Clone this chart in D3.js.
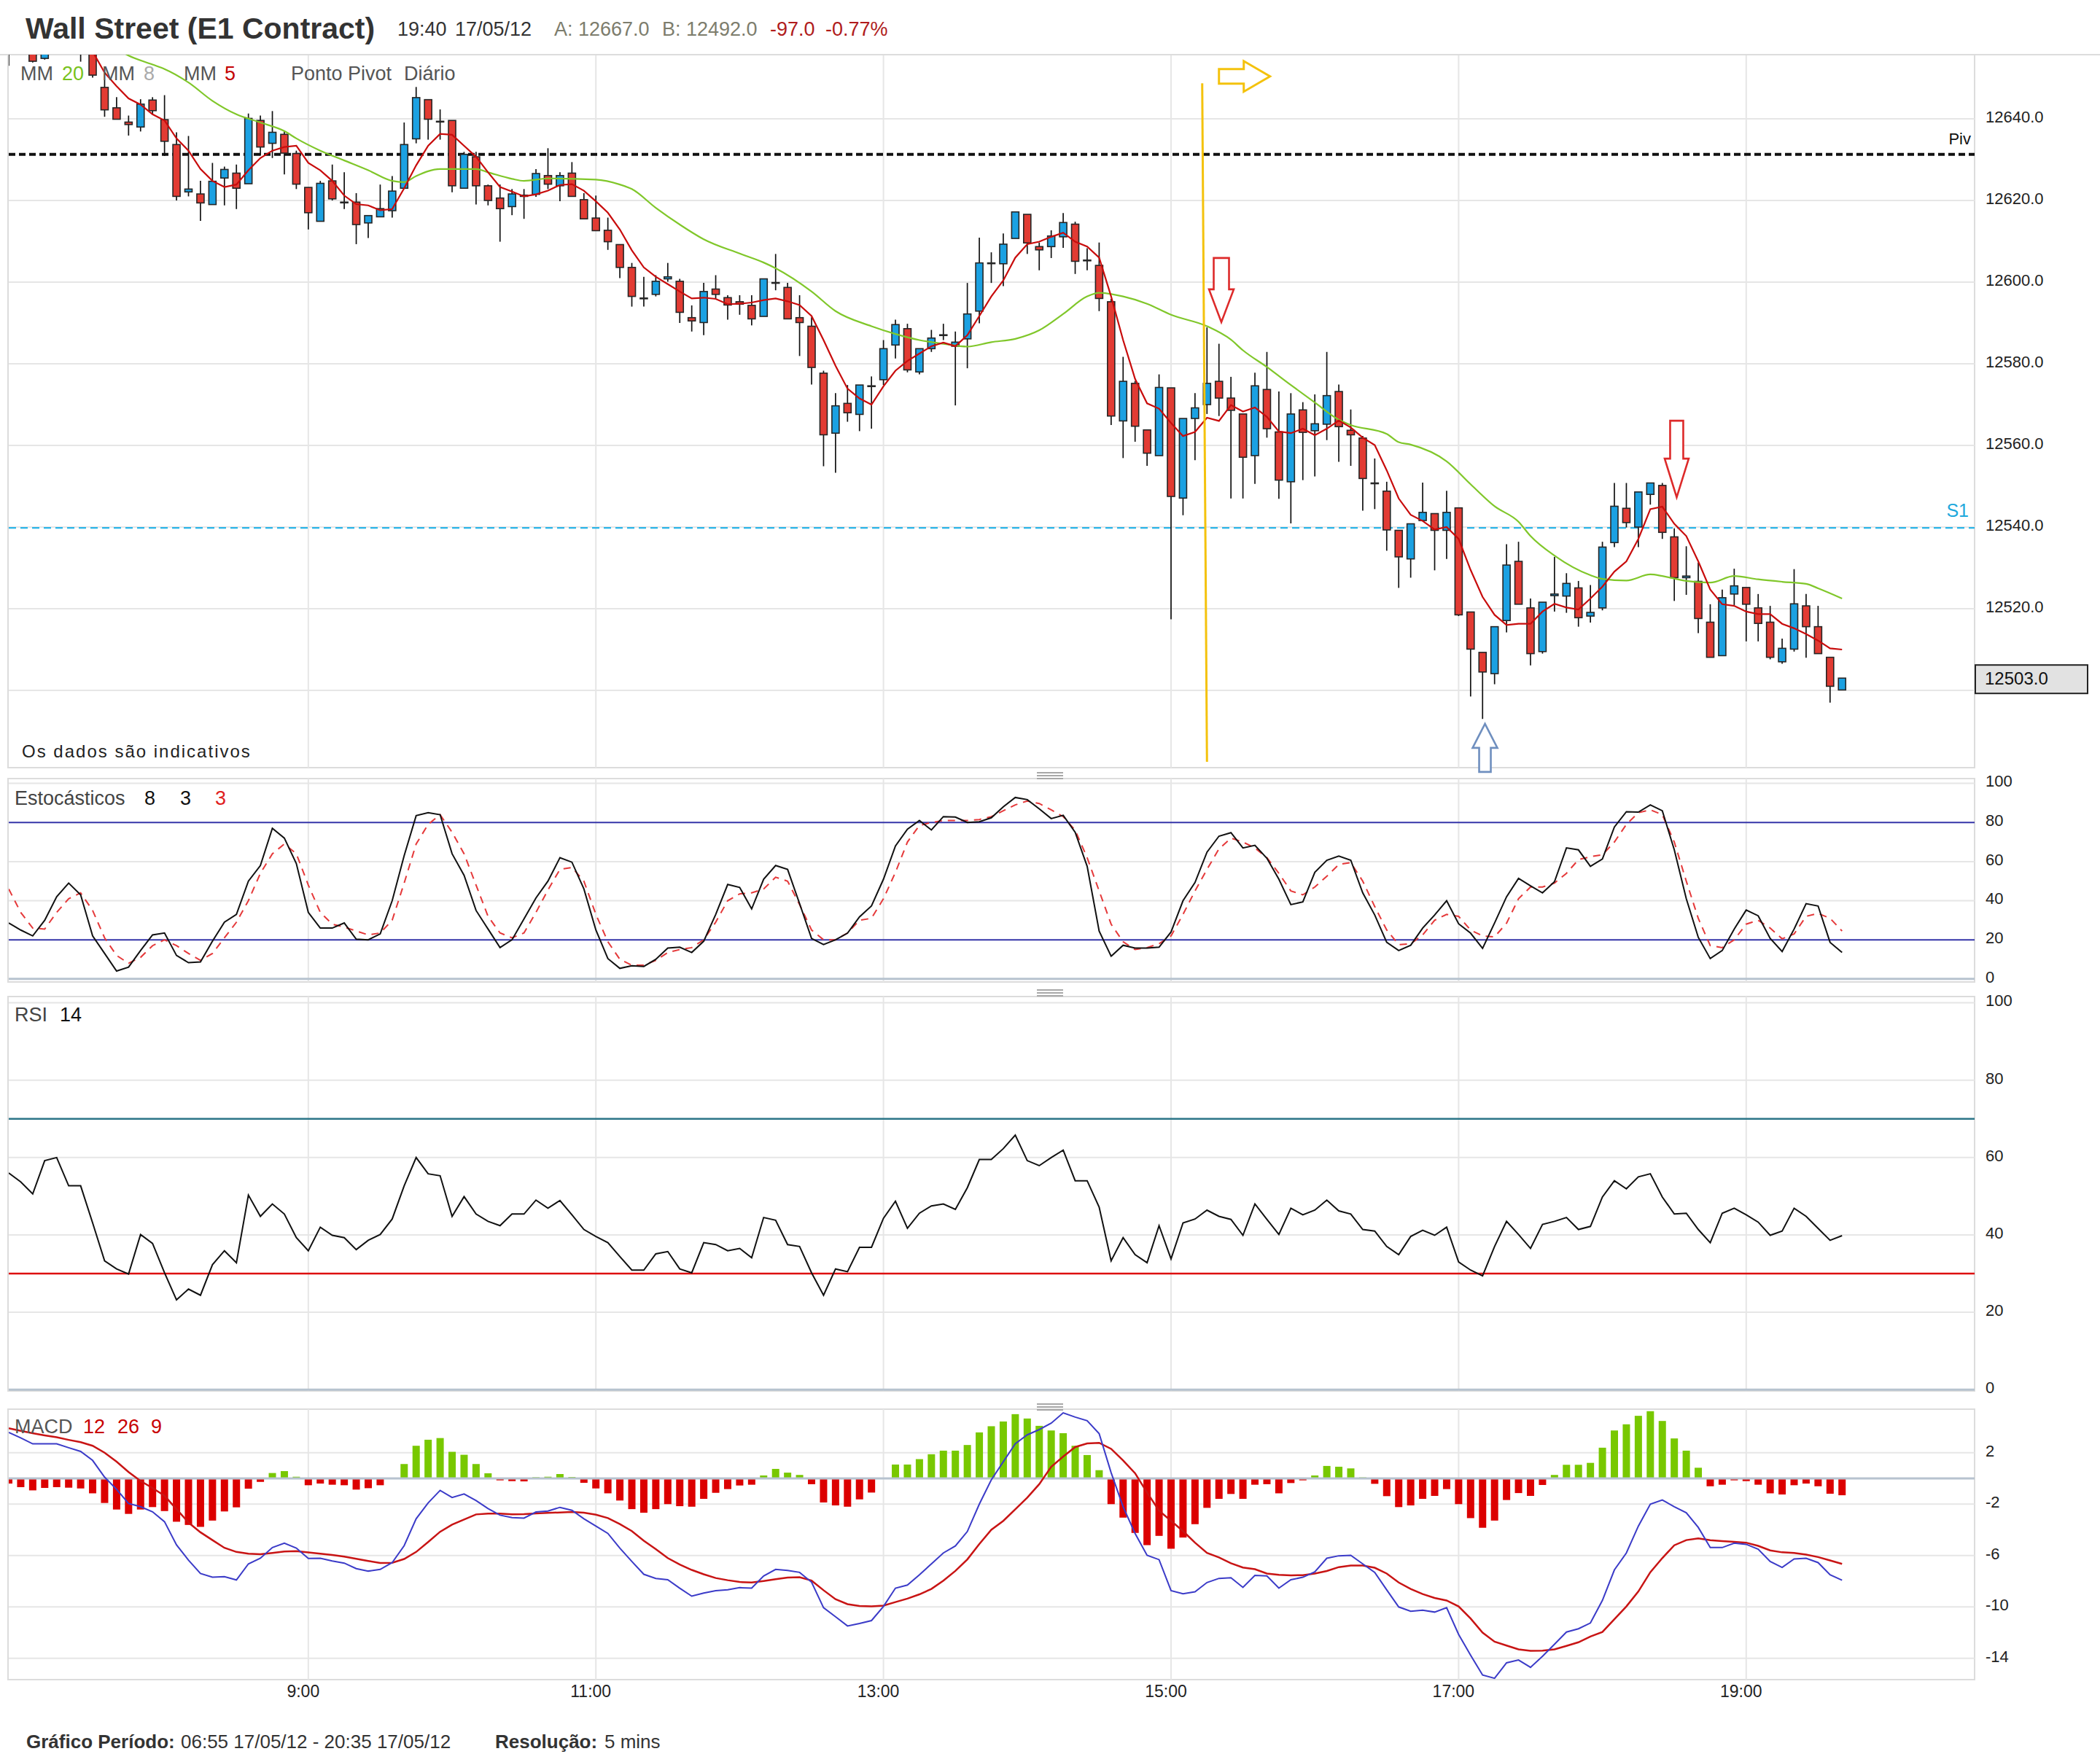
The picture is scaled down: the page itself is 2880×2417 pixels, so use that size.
<!DOCTYPE html>
<html>
<head>
<meta charset="utf-8">
<script src="https://cdn.jsdelivr.net/npm/d3@7"></script>
<style>
  body { margin: 0; background: #fff; }
  svg { display: block; }
  text { font-family: "Liberation Sans", Arial, sans-serif; }
</style>
</head>
<body>
<svg id="chart"></svg>
<script>
// ---- Candles, 5 minute bars from 06:55 to 19:40 ----
const startTime = "06:55", endTime = "20:35", stepMinutes = 5;

const openP = [
  12662, 12659, 12662, 12654.8, 12658, 12662, 12657, 12660, 12647.7, 12642.7,
  12639.2, 12638, 12644.6, 12639.8, 12633.7, 12622.1, 12621.6, 12619.0, 12625.5, 12626.7,
  12624.1, 12639.6, 12634.0, 12636.2, 12631.5, 12623.2, 12614.9, 12624.8, 12619.6, 12619.6,
  12614.5, 12616.0, 12617.5, 12623.0, 12635.1, 12644.7, 12639.4, 12639.6, 12623.0, 12630.7,
  12623.6, 12620.6, 12618.5, 12621.0, 12621.5, 12626.1, 12623.6, 12626.7, 12620.2, 12615.7,
  12612.7, 12609.2, 12603.6, 12596.1, 12597.0, 12600.8, 12600.2, 12591.3, 12590.1, 12598.3,
  12596.2, 12595.2, 12594.3, 12591.6, 12599.9, 12598.7, 12591.3, 12589.2, 12577.7, 12563.0,
  12570.3, 12567.6, 12574.6, 12576.1, 12584.6, 12588.6, 12578.0, 12583.7, 12587.1, 12584.3,
  12586.1, 12592.9, 12604.7, 12604.5, 12610.7, 12616.6, 12608.7, 12608.7, 12611.1, 12614.2,
  12605.4, 12604.1, 12595.2, 12566.0, 12575.2, 12563.8, 12557.5, 12574.1, 12547.1, 12566.6,
  12570.0, 12575.7, 12571.6, 12567.7, 12557.5, 12573.7, 12563.3, 12551.1, 12568.7, 12563.6,
  12565.2, 12573.2, 12563.7, 12561.8, 12550.8, 12548.8, 12539.2, 12532.2, 12541.6, 12543.3,
  12539.2, 12544.7, 12519.2, 12509.3, 12504.1, 12517.1, 12531.6, 12520.2, 12509.5, 12523.2,
  12523.1, 12525.1, 12518.2, 12520.2, 12536.2, 12544.6, 12540.0, 12548.0, 12550.2, 12537.6,
  12527.6, 12526.7, 12516.7, 12508.5, 12523.6, 12525.2, 12520.2, 12516.7, 12507.0, 12510.1,
  12520.7, 12515.6, 12508.1, 12500.1
];
const highP = [
  12666, 12667, 12664, 12660, 12664, 12665, 12662, 12661, 12649.5, 12645.3,
  12640.8, 12644.8, 12645.3, 12645.8, 12636.7, 12635.8, 12624.8, 12629.2, 12628.3, 12628.8,
  12641.3, 12640.8, 12641.9, 12637.0, 12632.2, 12623.2, 12624.8, 12628.8, 12626.9, 12621.8,
  12616.3, 12623.9, 12626.0, 12639.1, 12647.8, 12644.7, 12642.3, 12639.6, 12631.9, 12631.9,
  12623.9, 12623.9, 12622.8, 12622.8, 12627.7, 12632.8, 12626.9, 12629.4, 12621.8, 12621.2,
  12615.8, 12609.2, 12604.7, 12601.3, 12601.7, 12604.7, 12600.8, 12594.3, 12599.8, 12601.7,
  12596.8, 12596.8, 12596.8, 12600.8, 12606.9, 12599.8, 12596.8, 12591.4, 12578.3, 12572.8,
  12574.8, 12574.8, 12576.9, 12585.8, 12590.8, 12589.8, 12583.7, 12588.3, 12589.8, 12587.9,
  12599.8, 12610.9, 12607.3, 12611.9, 12617.2, 12616.6, 12609.7, 12612.7, 12616.9, 12614.8,
  12608.3, 12609.7, 12595.9, 12581.7, 12575.8, 12563.8, 12577.4, 12574.1, 12566.6, 12572.8,
  12588.9, 12584.9, 12576.8, 12567.7, 12577.8, 12582.9, 12573.2, 12572.8, 12570.6, 12572.5,
  12582.9, 12574.9, 12568.8, 12562.3, 12556.8, 12551.1, 12539.2, 12540.8, 12550.9, 12543.3,
  12548.9, 12544.7, 12519.2, 12509.3, 12515.6, 12535.8, 12536.4, 12522.5, 12521.6, 12532.7,
  12528.7, 12526.8, 12525.8, 12536.4, 12550.8, 12550.8, 12548.6, 12550.8, 12550.8, 12539.7,
  12535.3, 12531.3, 12521.1, 12524.7, 12529.8, 12525.2, 12523.6, 12520.7, 12512.7, 12529.7,
  12523.6, 12520.7, 12508.1, 12503.0
];
const lowP = [
  12653, 12657, 12653.8, 12654.5, 12656, 12656, 12654, 12650.1, 12640.5, 12639.9,
  12635.9, 12636.9, 12641.1, 12630.9, 12620.0, 12621.0, 12615.0, 12619.0, 12618.8, 12617.9,
  12624.1, 12631.0, 12630.4, 12626.4, 12622.8, 12612.9, 12614.9, 12620.0, 12617.9, 12609.3,
  12610.8, 12616.0, 12615.8, 12623.0, 12634.0, 12634.9, 12634.9, 12622.0, 12623.0, 12619.0,
  12618.8, 12609.9, 12616.4, 12615.5, 12620.9, 12622.8, 12619.8, 12621.0, 12615.5, 12612.6,
  12607.9, 12601.0, 12594.0, 12594.0, 12596.5, 12600.1, 12590.0, 12587.9, 12587.0, 12596.0,
  12590.8, 12592.0, 12589.4, 12591.6, 12598.0, 12591.0, 12581.9, 12574.9, 12554.9, 12553.3,
  12565.8, 12563.5, 12564.1, 12574.8, 12581.3, 12577.9, 12577.4, 12582.9, 12585.8, 12569.8,
  12578.9, 12589.9, 12599.8, 12599.0, 12610.7, 12606.9, 12602.9, 12605.9, 12608.4, 12602.0,
  12602.9, 12592.9, 12565.0, 12556.9, 12560.9, 12555.0, 12557.5, 12517.4, 12542.9, 12556.4,
  12567.7, 12567.2, 12547.0, 12547.0, 12550.6, 12561.9, 12546.9, 12540.9, 12551.5, 12552.4,
  12561.3, 12556.0, 12555.0, 12544.0, 12544.4, 12534.2, 12525.1, 12527.6, 12541.6, 12529.4,
  12532.2, 12518.2, 12498.5, 12493.0, 12501.5, 12514.2, 12521.1, 12506.1, 12509.0, 12519.3,
  12519.0, 12515.6, 12516.6, 12519.6, 12535.1, 12539.9, 12535.1, 12545.5, 12537.1, 12521.9,
  12523.4, 12514.0, 12508.1, 12508.5, 12520.9, 12512.0, 12512.0, 12507.6, 12506.5, 12509.5,
  12508.0, 12509.0, 12497.0, 12500.1
];
const closeP = [
  12659, 12664, 12654.1, 12658, 12662, 12657, 12660, 12650.7, 12642.2, 12639.9,
  12638.6, 12643.6, 12642.0, 12634.5, 12621.0, 12622.8, 12619.4, 12624.7, 12627.6, 12623.0,
  12640.1, 12633.1, 12636.7, 12631.6, 12624.0, 12617.0, 12624.2, 12620.4, 12619.6, 12614.1,
  12616.3, 12618.0, 12622.3, 12633.7, 12645.2, 12639.9, 12639.4, 12623.6, 12631.3, 12623.6,
  12620.0, 12618.0, 12621.6, 12621.3, 12626.6, 12624.0, 12626.1, 12621.0, 12615.5, 12612.6,
  12609.9, 12603.6, 12596.5, 12596.1, 12600.2, 12601.3, 12592.6, 12590.5, 12597.7, 12597.0,
  12594.4, 12594.6, 12591.0, 12600.8, 12599.9, 12591.0, 12590.1, 12579.1, 12562.6, 12569.7,
  12568.0, 12574.8, 12574.6, 12583.7, 12589.6, 12578.5, 12583.7, 12586.3, 12587.1, 12585.3,
  12592.2, 12604.7, 12604.7, 12609.3, 12617.2, 12609.6, 12607.9, 12611.3, 12614.6, 12605.1,
  12605.4, 12596.0, 12567.2, 12575.7, 12564.7, 12558.1, 12574.2, 12547.5, 12566.6, 12569.2,
  12575.2, 12571.6, 12568.6, 12557.1, 12574.6, 12564.1, 12551.5, 12567.7, 12563.2, 12565.3,
  12572.2, 12564.6, 12562.6, 12551.9, 12550.8, 12539.3, 12532.7, 12540.8, 12543.6, 12539.2,
  12543.6, 12518.5, 12510.1, 12504.5, 12515.6, 12530.7, 12521.1, 12509.0, 12521.6, 12523.6,
  12526.2, 12517.8, 12519.1, 12535.1, 12545.1, 12541.1, 12548.6, 12550.8, 12538.7, 12527.6,
  12528.0, 12517.6, 12508.1, 12522.7, 12525.6, 12521.1, 12516.4, 12508.1, 12510.3, 12521.2,
  12515.6, 12509.0, 12501.0, 12503.0
];

// ---- Moving averages ----
const ma5 = [
  12661, 12661, 12660.5, 12660, 12659, 12658.5, 12658, 12656.5, 12651.3, 12648,
  12645, 12643.5, 12641.1, 12639.6, 12635.2, 12632.2, 12627.7, 12624.8, 12623.3, 12623.9,
  12627.4, 12630.4, 12632.2, 12633.1, 12633.4, 12629.2, 12627.4, 12624.8, 12621.2, 12619.1,
  12618.8, 12617.6, 12617.9, 12623, 12628.6, 12633.4, 12636.3, 12636.1, 12633.4, 12630.7,
  12626.9, 12623.3, 12622.2, 12621.0, 12621.5, 12622.4, 12623.8, 12624, 12622.4, 12619.8,
  12617.0, 12612.9, 12607.8, 12603.6, 12601.3, 12599.5, 12597.7, 12596.0, 12596.2, 12595.9,
  12594.6, 12594.7, 12595.0, 12595.6, 12596.0, 12595.3, 12594.4, 12591.7, 12585.8, 12579.5,
  12573.9, 12571.5, 12570.0, 12574.5, 12578.3, 12580.7, 12582.5, 12584.3, 12585.2, 12584.3,
  12587.0, 12591.7, 12596.5, 12600.4, 12606.0, 12609.3, 12609.9, 12611.1, 12612.1, 12609.9,
  12608.7, 12606.0, 12596.5, 12585.8, 12576.3, 12570.3, 12569, 12565.5, 12562.3, 12563.3,
  12566.8, 12566.0, 12569.9, 12568.3, 12569.3, 12567.0, 12563.4, 12563.0, 12564.1, 12562.5,
  12564.1, 12566.1, 12564.4, 12561.9, 12560.1, 12553.9, 12547.0, 12543.0, 12541.5, 12539.4,
  12540.0, 12537.1, 12529.5, 12522.9, 12518.5, 12516.0, 12516.3, 12516.3, 12519.3, 12521.2,
  12520.3, 12519.8, 12522.5, 12525.4, 12529.1, 12531.6, 12537.1, 12544.4, 12545.0, 12540.8,
  12537.8, 12531.6, 12524.7, 12521.1, 12520.7, 12519.3, 12518.7, 12518.7, 12516.3, 12515.2,
  12513.8, 12512.2, 12510.3, 12510.0
];
// MM 20 read at these bar indices
const ma20At = [0, 2, 4, 6, 8, 10, 12, 13, 15, 17, 19, 21, 23, 24, 26, 28, 30, 32, 33, 34,
  36, 39, 40, 42, 43, 45, 49, 51, 52, 54, 56, 58, 61, 63, 64, 67, 69, 72, 74, 76,
  78, 80, 82, 84, 86, 88, 90, 91, 93, 95, 97, 100, 102, 103, 105, 107, 109, 111, 112, 115,
  116, 117, 120, 122, 124, 126, 127, 129, 132, 133, 135, 137, 138, 140, 142, 144, 146, 148, 150, 151, 153];
const ma20Val = [12668, 12666, 12664, 12661.5, 12659, 12655.5, 12653.3, 12652.2, 12648.9, 12644.4,
  12641.1, 12639.1, 12637, 12635.2, 12632.2, 12629.8, 12627.4, 12624.8, 12624.5, 12626,
  12627.7, 12627.7, 12626.9, 12625.3, 12624.8, 12625.4, 12625.1, 12623.9, 12622.8, 12618.2,
  12614.1, 12610.5, 12607, 12604.8, 12603.4, 12597.7, 12592.9, 12589.2, 12587.3, 12585.8,
  12584.9, 12584.2, 12585.3, 12586.1, 12588.2, 12592.2, 12596.5, 12597.4, 12596.5, 12594.7,
  12592, 12589.2, 12585.9, 12583.3, 12579.2, 12574.8, 12570.5, 12566.3, 12565, 12562.8,
  12560.8, 12560.2, 12556.1, 12550.5, 12545.1, 12541.3, 12537.8, 12533, 12528.2, 12527.3,
  12526.9, 12528.4, 12528, 12526.8, 12526.4, 12528.0, 12527.2, 12526.6, 12526.1, 12525, 12522.5];

// ---- Pivot levels ----
const pivotLevel = 12631.3;
const s1Level = 12539.8;
const lastPrice = 12503.0;

// ---- Stochastics 8 3 3 ----
const stochK = [
  28.6, 25, 22, 30, 42, 49, 43, 22, 13, 4,
  6, 14.5, 22.5, 23.5, 12, 8.3, 8.7, 19.3, 29, 33,
  50, 58, 77, 72, 59, 34, 26, 26, 28.6, 20.3,
  20, 23, 40, 63, 83.5, 85, 84, 64, 53, 35,
  25.5, 16, 20, 30.7, 41.4, 50, 62, 59.7, 46, 25,
  10.4, 5.4, 6.7, 6.4, 10, 15.8, 16.2, 13.5, 19.3, 33,
  48.3, 46.8, 35.8, 51, 58, 56, 38.5, 20.7, 17.6, 20,
  23.4, 31.7, 37.3, 51, 68, 76.6, 81, 76.2, 83, 82.8,
  80, 80.4, 82.4, 88, 92.8, 91.7, 87, 82, 83.7, 75,
  57.6, 24.5, 11.6, 17.2, 15.8, 15.8, 16.2, 24, 40, 49.3,
  64.8, 73, 74.8, 67, 68.3, 61.7, 51, 38, 39.4, 54.5,
  60.7, 62.8, 60.7, 44, 32.7, 18.7, 14.5, 17.2, 26, 32.7,
  40, 28.2, 23.4, 15.6, 28.6, 42, 51.4, 47.6, 44, 49.7,
  67, 66, 57.6, 61.3, 77.7, 85.5, 85.3, 89, 86, 66,
  41, 21.3, 10.4, 14.5, 25.5, 35.2, 32.3, 20.7, 14, 25.5,
  38.5, 37.3, 18.7, 13.5
];
const stochD = [
  46, 34, 26, 25.5, 34, 41, 44, 35, 21, 12,
  8, 11, 17, 20, 17, 13, 9.5, 13, 21, 29,
  40, 54, 64, 69, 64, 48, 34, 28, 26.5, 24.5,
  22.5, 23.5, 30, 49, 69, 79, 84, 75, 64, 48,
  32, 23.5, 21, 23.5, 34, 45.5, 56, 57, 50, 33,
  19, 10, 7, 7, 9.5, 13.5, 15, 16, 20, 29,
  40, 43.5, 44, 46, 52, 50, 38, 25, 20, 20,
  23.5, 30, 31, 41, 54.5, 70, 78.5, 80, 81, 81,
  81, 81.5, 83, 86, 89, 91, 89.7, 86.5, 83, 76,
  62, 45, 28, 19, 15, 16, 18, 22, 33, 45,
  56, 66.5, 72, 70, 67, 62, 54, 45, 43, 47,
  52.5, 58.5, 59.5, 50, 37, 25, 17.5, 18, 22.5, 30,
  33, 32, 25, 22, 21.5, 28.5, 41, 47, 47, 49,
  54, 61, 62.5, 63.5, 70, 79, 85, 86.5, 84, 70,
  50, 31, 17, 16, 20, 28, 30, 26, 20.5, 23,
  32, 33.5, 31, 24.5
];

// ---- RSI 14 ----
const rsi = [
  56.0, 53.7, 50.6, 59.2, 60.0, 52.7, 52.7, 43.1, 33.3, 31.2,
  29.9, 40.1, 37.8, 30.2, 23.2, 26.0, 24.4, 32.3, 35.9, 32.8,
  50.3, 44.8, 48.0, 45.4, 39.3, 35.9, 42.0, 39.9, 39.3, 36.2,
  38.6, 40.1, 44.1, 52.7, 60.0, 55.8, 55.3, 44.8, 49.9, 45.4,
  43.5, 42.4, 45.4, 45.4, 49.0, 46.9, 48.9, 45.2, 41.4, 39.6,
  38.0, 34.4, 30.9, 30.9, 35.1, 35.7, 31.2, 30.2, 38.0, 37.5,
  35.9, 36.5, 34.1, 44.5, 43.8, 37.5, 37.0, 30.2, 24.4, 31.2,
  30.5, 36.8, 36.8, 44.3, 48.7, 41.7, 45.6, 47.5, 48.0, 46.6,
  52.2, 59.5, 59.5, 62.3, 65.8, 59.2, 57.9, 60.0, 61.9, 54.0,
  54.0, 47.2, 33.3, 39.3, 34.9, 32.8, 42.4, 33.8, 43.1, 44.1,
  46.4, 44.8, 44.0, 39.9, 48.0, 44.0, 40.1, 46.9, 45.2, 46.4,
  49.0, 46.2, 45.4, 41.4, 41.0, 37.0, 34.9, 39.6, 41.2, 39.9,
  42.0, 33.0, 30.9, 29.4, 37.0, 43.5, 40.1, 36.5, 42.7, 43.5,
  44.5, 41.4, 42.2, 49.8, 54.0, 51.9, 55.0, 55.8, 49.8, 45.4,
  45.6, 41.4, 38.0, 45.6, 46.9, 45.2, 43.3, 39.9, 41.0, 46.9,
  44.8, 41.7, 38.6, 39.8
];

// ---- MACD 12 26 9 ----
const macdLine = [
  3.58, 3.15, 2.69, 2.69, 2.69, 2.39, 2.1, 1.4, 0.1, -0.85,
  -1.95, -2.2, -2.6, -3.37, -5.17, -6.36, -7.4, -7.69, -7.65, -7.9,
  -6.65, -6.21, -5.38, -5.04, -5.42, -6.23, -6.21, -6.42, -6.59, -7.02,
  -7.21, -7.08, -6.55, -5.23, -3.14, -1.91, -0.93, -1.48, -1.21, -1.72,
  -2.35, -2.86, -3.05, -3.09, -2.61, -2.54, -2.25, -2.48, -3.14, -3.71,
  -4.28, -5.42, -6.46, -7.46, -7.78, -7.88, -8.54, -9.16, -8.92, -8.73,
  -8.67, -8.5, -8.54, -7.59, -7.08, -7.16, -7.31, -8.07, -10.06, -10.76,
  -11.48, -11.29, -11.06, -9.96, -8.54, -8.3, -7.5, -6.65, -5.8, -5.26,
  -4.13, -2.0, -0.11, 1.3, 2.7, 3.39, 3.8, 4.3, 5.1, 4.77,
  4.49, 3.49, 0.45, -2.2, -4.28, -5.98, -6.32, -8.73, -8.98, -8.82,
  -8.1, -7.78, -7.73, -8.48, -7.54, -7.59, -8.54, -7.88, -7.69, -7.27,
  -6.21, -6.02, -5.98, -6.65, -7.31, -8.67, -10.0, -10.34, -10.25, -10.4,
  -10.06, -12.14, -13.75, -15.3, -15.55, -14.35, -14.13, -14.7, -13.84, -12.9,
  -11.95, -11.7, -11.25, -9.49, -7.12, -5.8, -3.71, -2.0, -1.68, -2.2,
  -2.67, -3.81, -5.38, -5.38, -5.04, -5.13, -5.51, -6.46, -6.93, -6.27,
  -6.21, -6.55, -7.5, -7.92
];
const macdSignal = [
  3.9, 3.7, 3.52, 3.35, 3.2, 3.0, 2.82, 2.54, 2.0, 1.3,
  0.5, -0.2, -0.75, -1.35, -2.39, -3.43, -4.19, -4.8, -5.4, -5.72,
  -5.86, -5.9, -5.8, -5.68, -5.66, -5.76, -5.86, -5.95, -6.08, -6.25,
  -6.42, -6.58, -6.56, -6.27, -5.72, -4.95, -4.15, -3.6, -3.2, -2.8,
  -2.74, -2.74, -2.79, -2.78, -2.72, -2.68, -2.65, -2.61, -2.67, -2.82,
  -3.08, -3.55, -4.1, -4.85, -5.5, -6.2, -6.7, -7.12, -7.46, -7.75,
  -7.92, -8.06, -8.1, -7.98, -7.84, -7.72, -7.69, -7.95, -8.7, -9.4,
  -9.78, -9.92, -9.96, -9.9, -9.62, -9.35, -9.02, -8.6, -7.95, -7.2,
  -6.3, -5.1, -4.0, -3.3, -2.4, -1.5, -0.45, 0.9, 1.7, 2.44,
  2.72, 2.77, 2.3, 1.4, 0.4, -1.1, -2.5, -3.3, -4.1, -5.0,
  -5.8, -6.15, -6.6, -6.93, -7.06, -7.4, -7.5, -7.54, -7.53, -7.4,
  -7.2, -6.9, -6.78, -6.78, -6.95, -7.4, -8.1, -8.6, -9.0, -9.3,
  -9.5, -9.96, -10.9, -12.0, -12.7, -13.0, -13.3, -13.42, -13.4, -13.3,
  -13.03, -12.75, -12.3, -11.95, -10.95, -9.96, -8.8, -7.3, -6.2, -5.2,
  -4.8, -4.66, -4.81, -4.88, -4.93, -5.0, -5.25, -5.6, -5.75, -5.8,
  -5.93, -6.12, -6.38, -6.65
];
const macdHist = [
  -0.4, -0.68, -0.93, -0.74, -0.68, -0.72, -0.78, -1.16, -1.91, -2.42,
  -2.76, -2.42, -2.23, -2.54, -3.37, -3.62, -3.77, -3.28, -2.57, -2.25,
  -0.8, -0.27, 0.42, 0.57, 0.13, -0.53, -0.4, -0.49, -0.53, -0.87,
  -0.76, -0.53, 0, 1.12, 2.54, 3.01, 3.14, 2.07, 1.84, 1.12,
  0.4, -0.15, -0.21, -0.23, 0.09, 0.13, 0.34, 0.11, -0.34, -0.78,
  -1.16, -1.72, -2.39, -2.67, -2.39, -2.0, -2.16, -2.2, -1.59, -1.12,
  -0.83, -0.55, -0.49, 0.23, 0.74, 0.45, 0.27, -0.45, -1.87, -2.1,
  -2.2, -1.63, -1.1, -0.05, 1.08, 1.08, 1.5, 1.88, 2.16, 2.16,
  2.6, 3.58, 4.06, 4.43, 5.0, 4.66, 4.09, 3.73, 3.52, 2.54,
  1.82, 0.64, -2.0, -3.05, -4.24, -5.19, -4.47, -5.47, -4.6, -3.56,
  -2.29, -1.59, -1.21, -1.59, -0.49, -0.45, -1.16, -0.36, -0.15, 0.23,
  0.97, 0.91, 0.78, 0.08, -0.42, -1.38, -2.23, -2.1, -1.59, -1.36,
  -0.83, -2.0, -3.09, -3.84, -3.28, -1.68, -1.14, -1.36, -0.51, 0.27,
  1.06, 1.06, 1.21, 2.39, 3.73, 4.21, 4.87, 5.23, 4.47, 3.11,
  2.16, 0.83, -0.61, -0.49, -0.15, -0.21, -0.49, -1.16, -1.25, -0.53,
  -0.4, -0.61, -1.19, -1.31
];

// ---- Axis ticks ----
const timeTicks = ["09:00", "11:00", "13:00", "15:00", "17:00", "19:00"];
const priceTicks = [12640, 12620, 12600, 12580, 12560, 12540, 12520];
const priceGrid = [12640, 12620, 12600, 12580, 12560, 12540, 12520, 12500];
const stochTicks = [100, 80, 60, 40, 20, 0];
const rsiTicks = [100, 80, 60, 40, 20, 0];
const macdTicks = [2, -2, -6, -10, -14];

// ---- Annotations drawn on the price panel (time, price) ----
const yellowLine = [["15:13", 12648.7], ["15:15", 12482.5]];
const yellowArrow = ["15:20", 12650.4];
const downArrows = [["15:21", 12590.2], ["18:31", 12547.3]];
const upArrow = ["17:11", 12491.8];

// ------------------------------------------------------------------
const W = 2880, H = 2417;
const svg = d3.select("#chart").attr("width", W).attr("height", H)
  .attr("viewBox", `0 0 ${W} ${H}`);
svg.append("rect").attr("width", W).attr("height", H).attr("fill", "#fff");

const toDate = s => { const [h, m] = s.split(":").map(Number); return new Date(2012, 4, 17, h, m); };
const t0 = toDate(startTime);
const times = openP.map((d, i) => d3.timeMinute.offset(t0, i * stepMinutes));

const plotLeft = 12, plotRight = 2708;
const x = d3.scaleTime().domain([t0, toDate(endTime)]).range([12, 2707]);

const panels = {
  main:  { top: 75,   bottom: 1053 },
  stoch: { top: 1068, bottom: 1347 },
  rsi:   { top: 1367, bottom: 1908 },
  macd:  { top: 1933, bottom: 2304 }
};

const yMain  = d3.scaleLinear().domain([12500, 12600]).range([947, 387]);
const yStoch = d3.scaleLinear().domain([0, 100]).range([1342.8, 1074.6]);
const yRsi   = d3.scaleLinear().domain([0, 100]).range([1906.2, 1375.6]);
const yMacd  = d3.scaleLinear().domain([0, -10]).range([2028, 2204.3]);

const gridColor = "#e6e6e6";
const axisFont = 22, axisX = 2723, axisDy = "0.22em";

// panel frames and clip paths
Object.entries(panels).forEach(([name, p]) => {
  svg.append("clipPath").attr("id", "clip-" + name)
    .append("rect").attr("x", plotLeft).attr("y", p.top)
    .attr("width", plotRight - plotLeft).attr("height", p.bottom - p.top);
  svg.append("rect").attr("x", plotLeft - 1).attr("y", p.top)
    .attr("width", plotRight - plotLeft + 1).attr("height", p.bottom - p.top)
    .attr("fill", "none").attr("stroke", "#dcdcdc").attr("stroke-width", 2);
  // vertical grid
  svg.append("g").selectAll("line").data(timeTicks).join("line")
    .attr("x1", d => x(toDate(d))).attr("x2", d => x(toDate(d)))
    .attr("y1", p.top).attr("y2", p.bottom)
    .attr("stroke", gridColor).attr("stroke-width", 2);
});

// header separator
svg.append("line").attr("x1", 0).attr("x2", W).attr("y1", 75).attr("y2", 75)
  .attr("stroke", "#dcdcdc").attr("stroke-width", 2);

// panel handles (≡)
[1064, 1362, 1930].forEach(cy => {
  svg.append("g").selectAll("line").data([-4, 0, 4]).join("line")
    .attr("x1", 1422).attr("x2", 1458).attr("y1", d => cy + d).attr("y2", d => cy + d)
    .attr("stroke", "#a8a8a8").attr("stroke-width", 2);
});

// ================= MAIN PRICE PANEL =================
const gMain = svg.append("g").attr("clip-path", "url(#clip-main)");
gMain.append("g").selectAll("line").data(priceGrid).join("line")
  .attr("x1", plotLeft).attr("x2", plotRight)
  .attr("y1", d => yMain(d)).attr("y2", d => yMain(d))
  .attr("stroke", gridColor).attr("stroke-width", 2);

// pivot and S1
gMain.append("line").attr("x1", plotLeft).attr("x2", plotRight)
  .attr("y1", yMain(pivotLevel)).attr("y2", yMain(pivotLevel))
  .attr("stroke", "#111").attr("stroke-width", 4).attr("stroke-dasharray", "9,5");
gMain.append("line").attr("x1", plotLeft).attr("x2", plotRight)
  .attr("y1", yMain(s1Level)).attr("y2", yMain(s1Level))
  .attr("stroke", "#2cb5e8").attr("stroke-width", 2.2).attr("stroke-dasharray", "10,6");

// candles
const bars = d3.range(openP.length);
const blue = "#1ba1e2", red = "#e23b33";
const cg = gMain.append("g").selectAll("g").data(bars).join("g");
cg.append("line")
  .attr("x1", i => x(times[i])).attr("x2", i => x(times[i]))
  .attr("y1", i => yMain(highP[i])).attr("y2", i => yMain(lowP[i]))
  .attr("stroke", "#111").attr("stroke-width", 1.7);
cg.append("rect")
  .attr("x", i => x(times[i]) - 5).attr("width", 10)
  .attr("y", i => yMain(Math.max(openP[i], closeP[i])))
  .attr("height", i => Math.max(1, Math.abs(yMain(openP[i]) - yMain(closeP[i]))))
  .attr("fill", i => closeP[i] === openP[i] ? "#222" : (closeP[i] > openP[i] ? blue : red))
  .attr("stroke", "#262626").attr("stroke-width", 1.6);

// moving averages
gMain.append("path").datum(ma20At.map((k, j) => [k, ma20Val[j]]))
  .attr("d", d3.line().x(d => x(times[d[0]])).y(d => yMain(d[1])).curve(d3.curveMonotoneX))
  .attr("fill", "none").attr("stroke", "#80c72a").attr("stroke-width", 2.2);
gMain.append("path").datum(ma5.map((v, i) => [i, v]))
  .attr("d", d3.line().x(d => x(times[d[0]])).y(d => yMain(d[1])))
  .attr("fill", "none").attr("stroke", "#c80c0c").attr("stroke-width", 2.2);

// annotations
const ann = gMain.append("g");
ann.append("line")
  .attr("x1", x(toDate(yellowLine[0][0]))).attr("y1", yMain(yellowLine[0][1]))
  .attr("x2", x(toDate(yellowLine[1][0]))).attr("y2", yMain(yellowLine[1][1]))
  .attr("stroke", "#f4c20d").attr("stroke-width", 3);
{
  const ax = x(toDate(yellowArrow[0])), ay = yMain(yellowArrow[1]);
  const pts = [[0, -10], [34, -10], [34, -21], [70, 0], [34, 21], [34, 10], [0, 10]];
  ann.append("polygon").attr("points", pts.map(p => [ax + p[0], ay + p[1]].join(",")).join(" "))
    .attr("fill", "#fff").attr("stroke", "#f4c20d").attr("stroke-width", 3);
}
downArrows.forEach(([t, p], k) => {
  const tx = x(toDate(t)), ty = yMain(p);
  const hw = k === 0 ? 17 : 16.5, sw = k === 0 ? 10.5 : 9;
  const hh = k === 0 ? 45 : 53, sl = k === 0 ? 43 : 52;
  const pts = [[-sw, -hh - sl], [sw, -hh - sl], [sw, -hh], [hw, -hh], [0, 0], [-hw, -hh], [-sw, -hh]];
  ann.append("polygon").attr("points", pts.map(q => [tx + q[0], ty + q[1]].join(",")).join(" "))
    .attr("fill", "#fff").attr("stroke", "#dd2a2a").attr("stroke-width", 2.6);
});
{
  const tx = x(toDate(upArrow[0])), ty = yMain(upArrow[1]);
  const pts = [[0, 0], [17, 33], [8, 33], [8, 66], [-8, 66], [-8, 33], [-17, 33]];
  svg.append("polygon").attr("points", pts.map(q => [tx + q[0], ty + q[1]].join(",")).join(" "))
    .attr("fill", "#fff").attr("stroke", "#6f8fbf").attr("stroke-width", 2.6);
}

// level labels
svg.append("text").attr("x", 2703).attr("y", yMain(pivotLevel) - 14).attr("text-anchor", "end")
  .attr("font-size", 22).attr("fill", "#111").text("Piv");
svg.append("text").attr("x", 2700).attr("y", yMain(s1Level) - 15).attr("text-anchor", "end")
  .attr("font-size", 25).attr("fill", "#1ea8dc").text("S1");

// price axis
svg.append("g").selectAll("text").data(priceTicks).join("text")
  .attr("x", axisX).attr("y", d => yMain(d)).attr("dy", axisDy)
  .attr("font-size", axisFont).attr("fill", "#222").text(d => d.toFixed(1));
svg.append("rect").attr("x", 2709).attr("y", yMain(lastPrice) - 18).attr("width", 154).attr("height", 39)
  .attr("fill", "#e2e2e2").attr("stroke", "#222").attr("stroke-width", 2);
svg.append("text").attr("x", 2722).attr("y", yMain(lastPrice) + 9)
  .attr("font-size", 24).attr("fill", "#111").text(lastPrice.toFixed(1));

// legend
const legend = svg.append("text").attr("y", 110).attr("font-size", 27).attr("fill", "#555");
[["MM", 28, "#555"], ["20", 85, "#78c21e"], ["MM", 140, "#555"], ["8", 197, "#aaa"],
 ["MM", 252, "#555"], ["5", 308, "#c40000"], ["Ponto Pivot", 399, "#555"], ["Diário", 554, "#555"]]
  .forEach(([t, px, c]) => legend.append("tspan").attr("x", px).attr("fill", c).text(t));

svg.append("text").attr("x", 30).attr("y", 1039).attr("font-size", 24)
  .attr("fill", "#222").attr("letter-spacing", 2).text("Os dados são indicativos");

// ================= STOCHASTICS =================
const gSt = svg.append("g").attr("clip-path", "url(#clip-stoch)");
gSt.append("g").selectAll("line").data([100, 60, 40]).join("line")
  .attr("x1", plotLeft).attr("x2", plotRight).attr("y1", d => yStoch(d)).attr("y2", d => yStoch(d))
  .attr("stroke", gridColor).attr("stroke-width", 2);
gSt.append("line").attr("x1", plotLeft).attr("x2", plotRight).attr("y1", yStoch(0)).attr("y2", yStoch(0))
  .attr("stroke", "#b7c3cf").attr("stroke-width", 3);
gSt.append("g").selectAll("line").data([80, 20]).join("line")
  .attr("x1", plotLeft).attr("x2", plotRight).attr("y1", d => yStoch(d)).attr("y2", d => yStoch(d))
  .attr("stroke", "#3535a8").attr("stroke-width", 2);
const lineSt = d3.line().x((d, i) => x(times[i])).y(d => yStoch(d));
gSt.append("path").datum(stochD).attr("d", lineSt).attr("fill", "none")
  .attr("stroke", "#e5393a").attr("stroke-width", 2).attr("stroke-dasharray", "10,8");
gSt.append("path").datum(stochK).attr("d", lineSt).attr("fill", "none")
  .attr("stroke", "#111").attr("stroke-width", 2);
svg.append("g").selectAll("text").data(stochTicks).join("text")
  .attr("x", axisX).attr("y", d => yStoch(d)).attr("dy", axisDy)
  .attr("font-size", axisFont).attr("fill", "#222").text(d => d);
const stTitle = svg.append("text").attr("y", 1104).attr("font-size", 27);
[["Estocásticos", 20, "#444"], ["8", 198, "#111"], ["3", 247, "#111"], ["3", 295, "#e02020"]]
  .forEach(([t, px, c]) => stTitle.append("tspan").attr("x", px).attr("fill", c).text(t));

// ================= RSI =================
const gR = svg.append("g").attr("clip-path", "url(#clip-rsi)");
gR.append("g").selectAll("line").data([100, 80, 60, 40, 20]).join("line")
  .attr("x1", plotLeft).attr("x2", plotRight).attr("y1", d => yRsi(d)).attr("y2", d => yRsi(d))
  .attr("stroke", gridColor).attr("stroke-width", 2);
gR.append("line").attr("x1", plotLeft).attr("x2", plotRight).attr("y1", yRsi(0)).attr("y2", yRsi(0))
  .attr("stroke", "#b7c3cf").attr("stroke-width", 3);
gR.append("line").attr("x1", plotLeft).attr("x2", plotRight).attr("y1", yRsi(70)).attr("y2", yRsi(70))
  .attr("stroke", "#2c7588").attr("stroke-width", 2.5);
gR.append("line").attr("x1", plotLeft).attr("x2", plotRight).attr("y1", yRsi(30)).attr("y2", yRsi(30))
  .attr("stroke", "#dd0f0f").attr("stroke-width", 2.5);
gR.append("path").datum(rsi)
  .attr("d", d3.line().x((d, i) => x(times[i])).y(d => yRsi(d)))
  .attr("fill", "none").attr("stroke", "#111").attr("stroke-width", 2);
svg.append("g").selectAll("text").data(rsiTicks).join("text")
  .attr("x", axisX).attr("y", d => yRsi(d)).attr("dy", axisDy)
  .attr("font-size", axisFont).attr("fill", "#222").text(d => d);
const rTitle = svg.append("text").attr("y", 1401).attr("font-size", 27);
[["RSI", 20, "#444"], ["14", 82, "#111"]]
  .forEach(([t, px, c]) => rTitle.append("tspan").attr("x", px).attr("fill", c).text(t));

// ================= MACD =================
const gM = svg.append("g").attr("clip-path", "url(#clip-macd)");
gM.append("g").selectAll("line").data(macdTicks).join("line")
  .attr("x1", plotLeft).attr("x2", plotRight).attr("y1", d => yMacd(d)).attr("y2", d => yMacd(d))
  .attr("stroke", gridColor).attr("stroke-width", 2);
gM.append("g").selectAll("rect").data(macdHist).join("rect")
  .attr("x", (d, i) => x(times[i]) - 5).attr("width", 10)
  .attr("y", d => Math.min(yMacd(0), yMacd(d)))
  .attr("height", d => Math.abs(yMacd(d) - yMacd(0)))
  .attr("fill", d => d >= 0 ? "#78c800" : "#dc0000");
gM.append("line").attr("x1", plotLeft).attr("x2", plotRight).attr("y1", yMacd(0)).attr("y2", yMacd(0))
  .attr("stroke", "#b7c3cf").attr("stroke-width", 3);
const lineM = d3.line().x((d, i) => x(times[i])).y(d => yMacd(d));
gM.append("path").datum(macdSignal).attr("d", lineM).attr("fill", "none")
  .attr("stroke", "#c81414").attr("stroke-width", 2.5);
gM.append("path").datum(macdLine).attr("d", lineM).attr("fill", "none")
  .attr("stroke", "#3b3bc8").attr("stroke-width", 2);
svg.append("g").selectAll("text").data(macdTicks).join("text")
  .attr("x", axisX).attr("y", d => yMacd(d)).attr("dy", axisDy)
  .attr("font-size", axisFont).attr("fill", "#222").text(d => d);
const mTitle = svg.append("text").attr("y", 1966).attr("font-size", 27);
[["MACD", 20, "#555"], ["12", 114, "#c80000"], ["26", 161, "#c80000"], ["9", 207, "#c80000"]]
  .forEach(([t, px, c]) => mTitle.append("tspan").attr("x", px).attr("fill", c).text(t));

// time axis
svg.append("g").selectAll("text").data(timeTicks).join("text")
  .attr("x", d => x(toDate(d)) - 7).attr("y", 2328).attr("text-anchor", "middle")
  .attr("font-size", 23).attr("fill", "#222").text(d => d.replace(/^0/, ""));

// ================= HEADER / FOOTER =================
svg.append("text").attr("x", 35).attr("y", 53).attr("font-size", 41).attr("font-weight", "bold")
  .attr("fill", "#333").text("Wall Street (E1 Contract)");
const hdr = svg.append("text").attr("y", 49).attr("font-size", 27);
[["19:40", 545, "#333"], ["17/05/12", 624, "#333"], ["A: 12667.0", 760, "#7d7d6d"],
 ["B: 12492.0", 908, "#7d7d6d"], ["-97.0", 1056, "#b01c1c"], ["-0.77%", 1132, "#b01c1c"]]
  .forEach(([t, px, c]) => hdr.append("tspan").attr("x", px).attr("fill", c).text(t));

const foot = svg.append("text").attr("y", 2398).attr("font-size", 26).attr("fill", "#333");
foot.append("tspan").attr("x", 36).attr("font-weight", "bold").text("Gráfico Período:");
foot.append("tspan").attr("x", 248).text("06:55 17/05/12 - 20:35 17/05/12");
foot.append("tspan").attr("x", 679).attr("font-weight", "bold").text("Resolução:");
foot.append("tspan").attr("x", 829).text("5 mins");
</script>
</body>
</html>
